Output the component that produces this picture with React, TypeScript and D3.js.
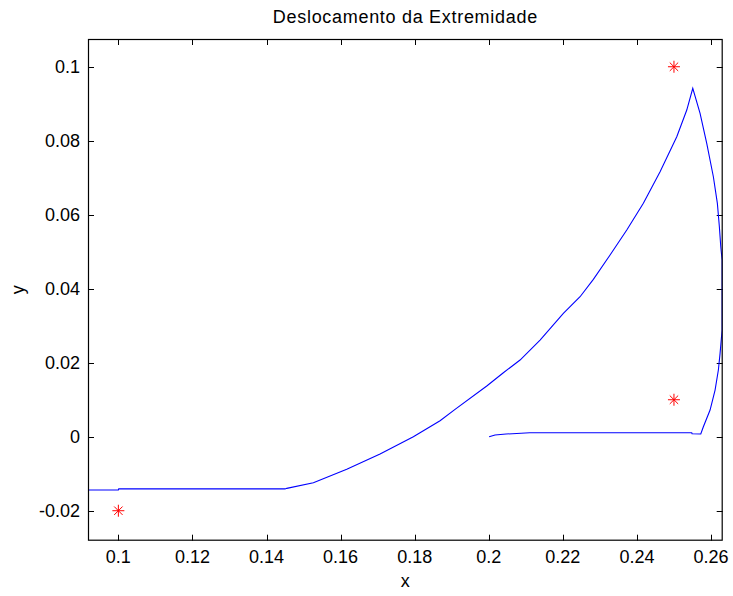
import React from "react";
import * as d3 from "d3";

// Trajectory of the end point (x, y)
const pathX = [
  0.0918, 0.1, 0.1001, 0.145, 0.14546, 0.15265, 0.16166, 0.17065, 0.17964, 0.18685,
  0.1909, 0.19946, 0.20394, 0.20845, 0.21385, 0.22014, 0.22465, 0.22824, 0.23275,
  0.23726, 0.24174, 0.24625, 0.25076, 0.25346, 0.25508, 0.25705, 0.25885, 0.26064,
  0.26172, 0.26226, 0.26264, 0.263, 0.263, 0.26245, 0.26199, 0.2611, 0.25975,
  0.25794, 0.25724, 0.25489, 0.2548, 0.21107, 0.20467, 0.2017, 0.2001,
];
const pathY = [
  -0.0144, -0.0144, -0.0141, -0.0141, -0.01395, -0.01243, -0.00881, -0.00468, 0.0, 0.00432,
  0.0074, 0.0137, 0.0173, 0.02073, 0.02614, 0.03335, 0.03784, 0.04254, 0.04911,
  0.05586, 0.06308, 0.07162, 0.08108, 0.0883, 0.09416, 0.0874, 0.0793, 0.07027,
  0.06308, 0.05676, 0.05135, 0.04776, 0.02884, 0.02254, 0.01803, 0.01262, 0.00722,
  0.0027, 0.00073, 0.00081, 0.00108, 0.00108, 0.00073, 0.00046, 0.0,
];

// Target points
const markerX = [0.1, 0.25, 0.25];
const markerY = [-0.02, 0.1, 0.01];

const xTicks = [0.1, 0.12, 0.14, 0.16, 0.18, 0.2, 0.22, 0.24, 0.26];
const yTicks = [-0.02, 0, 0.02, 0.04, 0.06, 0.08, 0.1];

const W = 733;
const H = 596;
const left = 88;
const right = 722.7;
const top = 39;
const bottom = 540.7;

const xScale = d3.scaleLinear().domain([0.0918, 0.26316]).range([left, right]);
const yScale = d3.scaleLinear().domain([-0.0281, 0.1075]).range([bottom, top]);

const fmt = (v: number) => (v === 0 ? "0" : String(+v.toFixed(2)));

export default function App() {
  const pts: [number, number][] = pathX.map((x, i) => [x, pathY[i]]);
  const line = d3
    .line<[number, number]>()
    .x((d) => xScale(d[0]))
    .y((d) => yScale(d[1]));
  const tickLen = 6;
  const font = "'Liberation Sans', Arial, sans-serif";

  return (
    <svg
      width={W}
      height={H}
      style={{ position: "absolute", left: 0, top: 0, background: "#fff" }}
      fontFamily={font}
    >
      <rect x={0} y={0} width={W} height={H} fill="#fff" />
      <defs>
        <clipPath id="plotArea">
          <rect x={left} y={top} width={right - left} height={bottom - top} />
        </clipPath>
      </defs>

      {/* ticks on all four sides, pointing inward */}
      {xTicks.map((t) => {
        const x = Math.round(xScale(t)) + 0.5;
        return (
          <g key={"xt" + t}>
            <line x1={x} x2={x} y1={bottom} y2={bottom - tickLen} stroke="#000" />
            <line x1={x} x2={x} y1={top} y2={top + tickLen} stroke="#000" />
            <text x={xScale(t)} y={563} fontSize={18} textAnchor="middle" fill="#000">
              {fmt(t)}
            </text>
          </g>
        );
      })}
      {yTicks.map((t) => {
        const y = Math.round(yScale(t)) + 0.5;
        return (
          <g key={"yt" + t}>
            <line x1={left} x2={left + tickLen} y1={y} y2={y} stroke="#000" />
            <line x1={right} x2={right - tickLen} y1={y} y2={y} stroke="#000" />
            <text
              x={80}
              y={yScale(t)}
              fontSize={18}
              textAnchor="end"
              dominantBaseline="central"
              fill="#000"
            >
              {fmt(t)}
            </text>
          </g>
        );
      })}

      <g clipPath="url(#plotArea)">
        <path d={line(pts) ?? ""} fill="none" stroke="#0000ff" strokeWidth={1.1} />
        {markerX.map((mx, i) => {
          const cx = xScale(mx);
          const cy = yScale(markerY[i]);
          const a = 6;
          const b = 4.2;
          return (
            <g key={"m" + i} stroke="#ff0000" strokeWidth={1}>
              <line x1={cx - a} x2={cx + a} y1={cy} y2={cy} />
              <line x1={cx} x2={cx} y1={cy - a} y2={cy + a} />
              <line x1={cx - b} x2={cx + b} y1={cy - b} y2={cy + b} />
              <line x1={cx - b} x2={cx + b} y1={cy + b} y2={cy - b} />
            </g>
          );
        })}
      </g>

      <rect
        x={left + 0.5}
        y={top + 0.5}
        width={right - left - 1}
        height={bottom - top - 1}
        fill="none"
        stroke="#000"
        strokeWidth={1.2}
      />

      <text
        x={(left + right) / 2}
        y={23}
        fontSize={18}
        letterSpacing={0.7}
        textAnchor="middle"
        fill="#000"
      >
        Deslocamento da Extremidade
      </text>
      <text x={(left + right) / 2} y={587} fontSize={18} textAnchor="middle" fill="#000">
        x
      </text>
      <text
        transform={`translate(24, ${(top + bottom) / 2}) rotate(-90)`}
        fontSize={18}
        textAnchor="middle"
        fill="#000"
      >
        y
      </text>
    </svg>
  );
}
